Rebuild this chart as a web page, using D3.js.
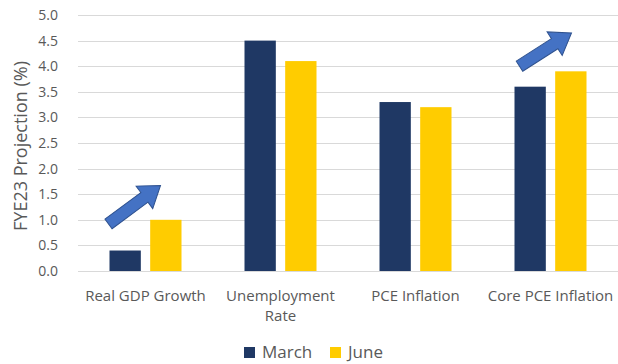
<!DOCTYPE html>
<html>
<head>
<meta charset="utf-8">
<script src="https://cdn.jsdelivr.net/npm/d3@7"></script>
<style>
  body { margin: 0; background: #fff; }
  text { font-family: "Open Sans", "Noto Sans", sans-serif; }
</style>
</head>
<body>
<div id="chart"></div>
<script>
// chart data
var categories = ["Real GDP Growth", "Unemployment Rate", "PCE Inflation", "Core PCE Inflation"];
var seriesNames = ["March", "June"];
var marchValues = [0.4, 4.5, 3.3, 3.6];
var juneValues = [1.0, 4.1, 3.2, 3.9];
var yTicks = [0, 0.5, 1, 1.5, 2, 2.5, 3, 3.5, 4, 4.5, 5];
// arrows: category, start value, end value
var arrows = [
    ["Real GDP Growth", 0.92, 1.67],
    ["Core PCE Inflation", 4.0, 4.65]
];

var w = 618;
var h = 364;
var colors = ["#1f3864", "#ffcc00"];

var svg = d3.select("#chart").append("svg").attr("width", w).attr("height", h);

var x = d3.scaleBand().domain(categories).range([78, 618]);
var sub = d3.scaleBand().domain(seriesNames).range([x.bandwidth() / 2 - 36, x.bandwidth() / 2 + 36]).paddingInner(0.23);
var y = d3.scaleLinear().domain([0, 5]).range([271, 15]);

// gridlines
svg.selectAll("line.grid")
    .data(yTicks)
    .enter()
    .append("line")
    .attr("x1", 78)
    .attr("x2", 618)
    .attr("y1", function(d) { return Math.round(y(d)) + 0.5; })
    .attr("y2", function(d) { return Math.round(y(d)) + 0.5; })
    .attr("stroke", "#d9d9d9")
    .attr("stroke-width", 1);

// y axis labels
svg.selectAll("text.ytick")
    .data(yTicks)
    .enter()
    .append("text")
    .text(function(d) { return d.toFixed(1); })
    .attr("x", 58)
    .attr("y", function(d) { return y(d) + 5; })
    .attr("text-anchor", "end")
    .attr("font-size", "14px")
    .attr("fill", "#595959");

svg.append("text")
    .text("FYE23 Projection (%)")
    .attr("transform", "translate(27,146) rotate(-90)")
    .attr("text-anchor", "middle")
    .attr("font-size", "18px")
    .attr("fill", "#595959");

// bars
var rows = categories.map(function(c, i) {
    return [{cat: c, s: "March", v: marchValues[i]}, {cat: c, s: "June", v: juneValues[i]}];
});
svg.selectAll("g.cat")
    .data(rows)
    .enter()
    .append("g")
    .selectAll("rect")
    .data(function(d) { return d; })
    .enter()
    .append("rect")
    .attr("x", function(d) { return x(d.cat) + sub(d.s); })
    .attr("y", function(d) { return y(d.v); })
    .attr("width", sub.bandwidth())
    .attr("height", function(d) { return y(0) - y(d.v); })
    .attr("fill", function(d) { return d.s == "March" ? colors[0] : colors[1]; });

// category labels
var labelLines = {"Unemployment Rate": ["Unemployment", "Rate"]};
categories.forEach(function(c) {
    var lines = labelLines[c] || [c];
    var t = svg.append("text")
        .attr("x", x(c) + x.bandwidth() / 2)
        .attr("y", 301)
        .attr("text-anchor", "middle")
        .attr("font-size", "15px")
        .attr("fill", "#595959");
    lines.forEach(function(l, i) {
        t.append("tspan").attr("x", x(c) + x.bandwidth() / 2).attr("dy", i == 0 ? 0 : 20).text(l);
    });
});

// arrows
arrows.forEach(function(a) {
    var cx = x(a[0]) + x.bandwidth() / 2;
    var x0 = cx - 37, x1 = cx + 15;
    if (a[0] == "Core PCE Inflation") { x0 = cx - 31; x1 = cx + 21; }
    var y0 = y(a[1]), y1 = y(a[2]);
    var dx = x1 - x0, dy = y1 - y0;
    var len = Math.sqrt(dx * dx + dy * dy);
    var ang = Math.atan2(dy, dx) * 180 / Math.PI;
    var sw = 6, hw = 14, hl = 20;
    var pts = [[0, -sw], [len - hl, -sw], [len - hl, -hw], [len, 0], [len - hl, hw], [len - hl, sw], [0, sw]];
    svg.append("polygon")
        .attr("points", pts.map(function(p) { return p.join(","); }).join(" "))
        .attr("transform", "translate(" + x0 + "," + y0 + ") rotate(" + ang + ")")
        .attr("fill", "#4472c4")
        .attr("stroke", "#2f528f")
        .attr("stroke-width", 1);
});

// legend
var legend = svg.selectAll("g.legend")
    .data(seriesNames)
    .enter()
    .append("g")
    .attr("transform", function(d, i) { return "translate(" + (244 + i * 86) + ",347)"; });
legend.append("rect")
    .attr("width", 11)
    .attr("height", 11)
    .attr("fill", function(d, i) { return colors[i]; });
legend.append("text")
    .text(function(d) { return d; })
    .attr("x", 18)
    .attr("y", 11)
    .attr("font-size", "17px")
    .attr("fill", "#595959");
</script>
</body>
</html>
